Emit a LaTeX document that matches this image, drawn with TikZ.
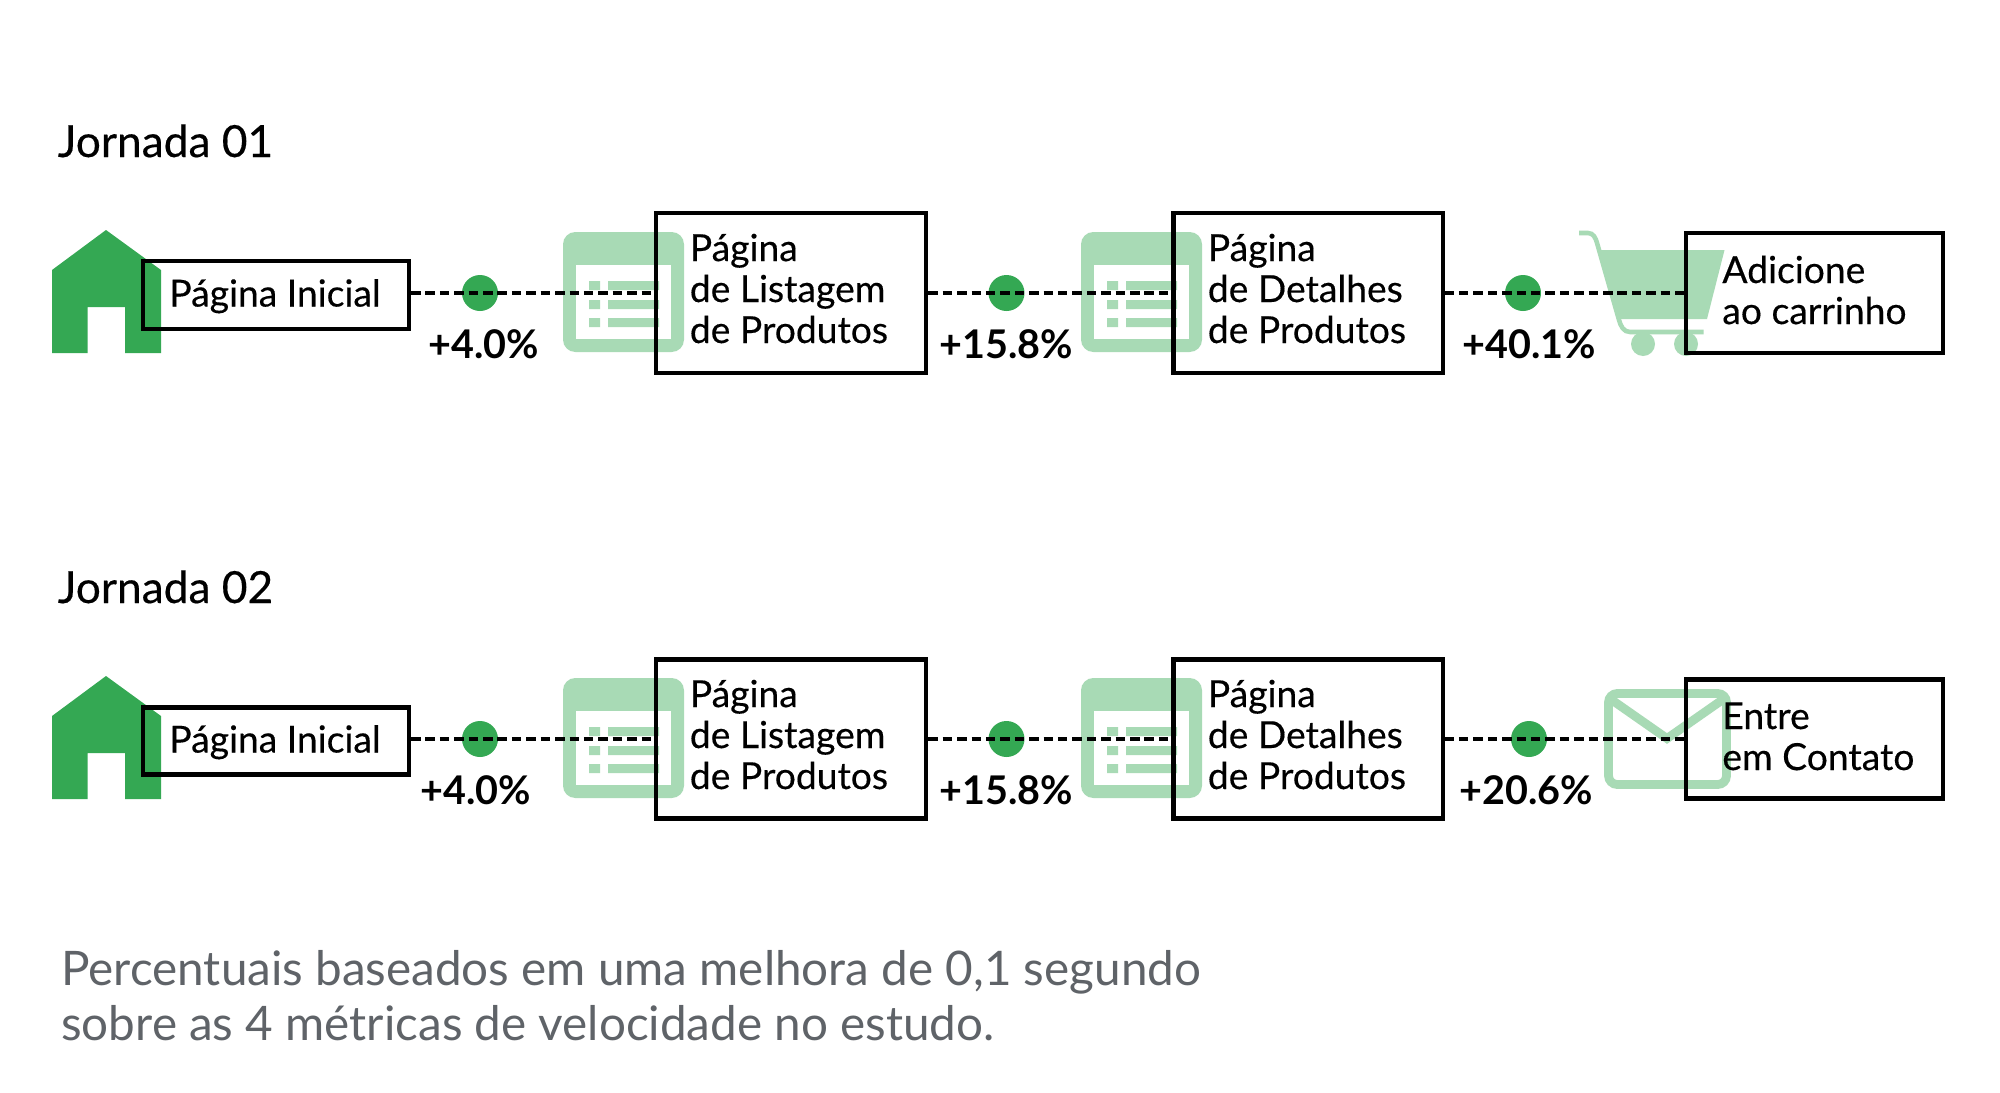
\documentclass[tikz,border=0pt]{standalone}
\usepackage{fontspec}
\setmainfont{Lato}
\newfontfamily\medfont[FakeBold=0.35]{Lato}
\definecolor{gr}{HTML}{34A853}
\definecolor{lg}{HTML}{A8DAB5}
\definecolor{gy}{HTML}{5F6368}
\tikzset{
  x=0.02cm,y=-0.02cm,
  pagebox/.style={draw=black,line width=2.3pt,inner sep=0pt,fill=none},
  lbl/.style={anchor=base west,inner sep=0pt,align=left,font=\medfont\fontsize{21.2}{24}\selectfont},
  pct/.style={anchor=base,inner sep=0pt,font=\fontsize{22.5}{25}\selectfont\bfseries},
  dot/.style={circle,fill=gr,minimum size=36*0.02cm,inner sep=0pt},
  link/.style={draw=black,line width=1.9pt,dash pattern=on 5.4pt off 2.8pt},
  title/.style={anchor=base west,inner sep=0pt,font=\medfont\fontsize{25.2}{28}\selectfont},
  note/.style={anchor=base west,inner sep=0pt,font=\fontsize{27.1}{30}\selectfont,text=gy},
}
\newcommand{\house}[1]{\fill[gr,shift={(0,#1)}] (52,270)--(106,230)--(161,270)--(161,353)--(125,353)--(125,307)--(87.5,307)--(87.5,353)--(52,353)--cycle;}
\newcommand{\docicon}[2]{\begin{scope}[shift={(#1,#2)}]
\fill[lg,rounded corners=7pt] (563,232) rectangle (684,352);
\fill[white] (576,265) rectangle (671,339);
\fill[lg] (589,281) rectangle (600,290) (608,281) rectangle (659,290)
 (589,300) rectangle (600,309) (608,300) rectangle (659,309)
 (589,318) rectangle (600,327) (608,318) rectangle (659,327);
\end{scope}}
\begin{document}
\begin{tikzpicture}
\useasboundingbox (0,0) rectangle (2000,1092);
\fill[white] (0,0) rectangle (2000,1092);
\node[title] (t1) at (57.5,157) {Jornada 01};
\node[title] (t2) at (57.5,603) {Jornada 02};
% icons row 1
\house{0}
\docicon{0}{0}
\docicon{518}{0}
\fill[lg] (1600,250)--(1724.5,250)--(1707,319)--(1620,319)--cycle;
\draw[lg,line width=2.6pt] (1579,233)--(1588,233) to[out=0,in=105] (1597,243)--(1619,320) to[out=285,in=180] (1630,332)--(1703.5,332);
\fill[lg] (1643,344) circle (12) (1686,344) circle (12);
% icons row 2
\house{446}
\docicon{0}{446}
\docicon{518}{446}
\draw[lg,line width=5pt,rounded corners=5pt] (1608.5,693.5) rectangle (1726.5,784.5);
\draw[lg,line width=5pt,line join=miter] (1609,698)--(1667,738.5)--(1725,698);
% boxes row 1
\node[pagebox,minimum width=266*0.02cm,minimum height=68*0.02cm] (a1) at (276,295) {};
\node[pagebox,minimum width=270*0.02cm,minimum height=160*0.02cm] (a2) at (791.3,293) {};
\node[pagebox,minimum width=269*0.02cm,minimum height=160*0.02cm] (a3) at (1308,293) {};
\node[pagebox,minimum width=257*0.02cm,minimum height=120*0.02cm] (a4) at (1814.5,293) {};
% boxes row 2
\node[pagebox,minimum width=266*0.02cm,minimum height=67*0.02cm] (b1) at (276,741) {};
\node[pagebox,minimum width=270*0.02cm,minimum height=159*0.02cm] (b2) at (791.3,739) {};
\node[pagebox,minimum width=269*0.02cm,minimum height=159*0.02cm] (b3) at (1308,739) {};
\node[pagebox,minimum width=257*0.02cm,minimum height=119*0.02cm] (b4) at (1814.5,739) {};
% dots
\node[dot] (da1) at (480,293) {};
\node[dot] (da2) at (1006.5,293) {};
\node[dot] (da3) at (1523,293) {};
\node[dot] (db1) at (480,739) {};
\node[dot] (db2) at (1006.5,739) {};
\node[dot] (db3) at (1529,739) {};
% connectors
\draw[link] (a1.east |- da1) -- (a2.west |- da1);
\draw[link] (a2.east |- da2) -- (a3.west |- da2);
\draw[link] (a3.east |- da3) -- (a4.west |- da3);
\draw[link] (b1.east |- db1) -- (b2.west |- db1);
\draw[link] (b2.east |- db2) -- (b3.west |- db2);
\draw[link] (b3.east |- db3) -- (b4.west |- db3);
% labels row 1
\node[lbl] (la1) at (169,306.5) {Página Inicial};
\node[lbl] (la2a) at (689.5,261) {Página};
\node[lbl] (la2b) at (689.5,302) {de Listagem};
\node[lbl] (la2c) at (689.5,343) {de Produtos};
\node[lbl] (la3a) at (1207.5,261) {Página};
\node[lbl] (la3b) at (1207.5,302) {de Detalhes};
\node[lbl] (la3c) at (1207.5,343) {de Produtos};
\node[lbl] (la4a) at (1722,283) {Adicione};
\node[lbl] (la4b) at (1722,324) {ao carrinho};
% labels row 2
\node[lbl] (lb1) at (169,752.5) {Página Inicial};
\node[lbl] (lb2a) at (689.5,707) {Página};
\node[lbl] (lb2b) at (689.5,748) {de Listagem};
\node[lbl] (lb2c) at (689.5,789) {de Produtos};
\node[lbl] (lb3a) at (1207.5,707) {Página};
\node[lbl] (lb3b) at (1207.5,748) {de Detalhes};
\node[lbl] (lb3c) at (1207.5,789) {de Produtos};
\node[lbl] (lb4a) at (1722,729) {Entre};
\node[lbl] (lb4b) at (1722,770) {em Contato};
% percentages
\node[pct] (pa1) at (484,358) {+4.0\%};
\node[pct] (pa2) at (1006,358) {+15.8\%};
\node[pct] (pa3) at (1529,358) {+40.1\%};
\node[pct] (pb1) at (476,804) {+4.0\%};
\node[pct] (pb2) at (1006,804) {+15.8\%};
\node[pct] (pb3) at (1526,804) {+20.6\%};
% note
\node[note] (n1) at (61,985) {Percentuais baseados em uma melhora de 0,1 segundo};
\node[note] (n2) at (61,1040) {sobre as 4 métricas de velocidade no estudo.};
\end{tikzpicture}
\end{document}
